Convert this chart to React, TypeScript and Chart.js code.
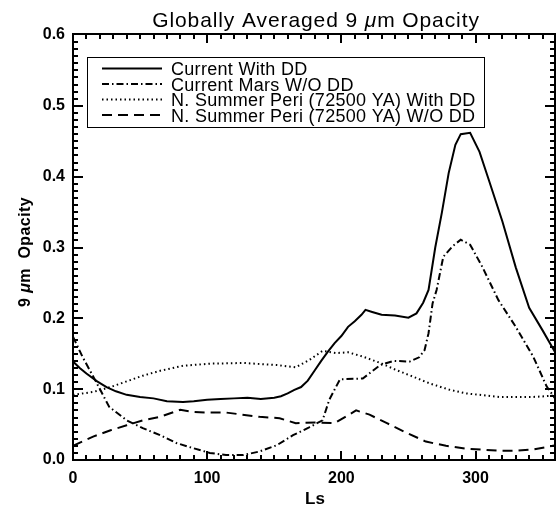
import { useEffect, useRef } from "react";
import { Chart, registerables } from "chart.js";

Chart.register(...registerables);

const FONT = '"Liberation Sans", Arial, sans-serif';

// ---- data (Ls in degrees, 9 µm opacity) ----
const seriesNames = [
  "Current With DD",
  "Current Mars W/O DD",
  "N. Summer Peri (72500 YA) With DD",
  "N. Summer Peri (72500 YA) W/O DD",
];

const lsCurrentDD = [0, 5, 10, 18, 25, 32, 40, 50, 60, 70, 82, 90, 100, 110, 120, 130, 140, 150, 155, 160, 165, 170, 175, 180, 185, 190, 195, 200, 205, 210, 215, 218, 223, 230, 240, 250, 256, 261, 265, 270, 275, 280, 285, 289, 296, 303, 310, 320, 330, 340, 350, 360];
const tauCurrentDD = [0.139, 0.13, 0.122, 0.111, 0.103, 0.097, 0.092, 0.089, 0.087, 0.083, 0.082, 0.083, 0.085, 0.086, 0.087, 0.088, 0.086, 0.088, 0.09, 0.094, 0.099, 0.103, 0.112, 0.126, 0.14, 0.153, 0.165, 0.175, 0.188, 0.196, 0.205, 0.212, 0.209, 0.205, 0.204, 0.201, 0.207, 0.222, 0.24, 0.3, 0.35, 0.405, 0.445, 0.46, 0.462, 0.435, 0.395, 0.337, 0.272, 0.215, 0.183, 0.15];

const lsCurrentNoDD = [0, 7, 17, 27, 40, 52, 65, 77, 89, 102, 114, 127, 139, 152, 164, 176, 186, 191, 199, 216, 229, 239, 251, 258, 262, 265, 268, 271, 276, 283, 289, 296, 305, 317, 330, 343, 353, 360];
const tauCurrentNoDD = [0.174, 0.146, 0.111, 0.075, 0.056, 0.045, 0.035, 0.024, 0.017, 0.01, 0.007, 0.007, 0.012, 0.021, 0.035, 0.046, 0.056, 0.085, 0.114, 0.115, 0.134, 0.14, 0.139, 0.145, 0.155, 0.179, 0.221, 0.24, 0.287, 0.302, 0.311, 0.304, 0.273, 0.226, 0.188, 0.146, 0.104, 0.085];

const lsPeriDD = [0, 15, 28, 40, 52, 65, 82, 102, 127, 152, 166, 176, 186, 196, 205, 216, 229, 241, 253, 266, 281, 293, 318, 343, 360];
const tauPeriDD = [0.092, 0.096, 0.103, 0.111, 0.119, 0.126, 0.133, 0.136, 0.137, 0.134, 0.131, 0.141, 0.154, 0.151, 0.152, 0.146, 0.137, 0.127, 0.118, 0.108, 0.099, 0.094, 0.089, 0.089, 0.091];

const lsPeriNoDD = [0, 15, 28, 40, 52, 65, 80, 89, 100, 114, 139, 154, 166, 181, 195, 203, 211, 221, 234, 249, 263, 278, 293, 318, 330, 343, 355, 360];
const tauPeriNoDD = [0.02, 0.033, 0.042, 0.049, 0.056, 0.061, 0.071, 0.068, 0.067, 0.067, 0.061, 0.059, 0.052, 0.053, 0.052, 0.061, 0.07, 0.064, 0.052, 0.038, 0.026, 0.02, 0.016, 0.013, 0.013, 0.015, 0.019, 0.021];

const xTickValues = [0, 100, 200, 300];
const yTickValues = [0, 0.1, 0.2, 0.3, 0.4, 0.5, 0.6];
const xMinorStep = 10;
const yMinorStep = 0.01;

const pts = (xs: number[], ys: number[]) => xs.map((x, i) => ({ x, y: ys[i] }));

type Run = [string, boolean];
function drawRuns(ctx: CanvasRenderingContext2D, runs: Run[], size: number, x: number, y: number, spacing: number, weight = "") {
  const fontFor = (it: boolean) => `${it ? "italic " : ""}${weight ? weight + " " : ""}${size}px ${FONT}`;
  (ctx as any).letterSpacing = `${spacing}px`;
  let total = 0;
  for (const [t, it] of runs) {
    ctx.font = fontFor(it);
    total += ctx.measureText(t).width;
  }
  let cx = x - total / 2;
  ctx.textAlign = "left";
  for (const [t, it] of runs) {
    ctx.font = fontFor(it);
    ctx.fillText(t, cx, y);
    cx += ctx.measureText(t).width;
  }
  (ctx as any).letterSpacing = "0px";
}

export default function App() {
  const ref = useRef<HTMLCanvasElement>(null);

  useEffect(() => {
    const canvas = ref.current!;

    const idlPlugin = {
      id: "idlFrame",
      afterDraw(chart: any) {
        const { ctx, chartArea: a, scales } = chart;
        const xs = scales.x;
        const ys = scales.y;
        const L = a.left;
        const R = a.right - 1;
        const T = a.top - 1;
        const B = a.bottom;
        ctx.save();
        ctx.strokeStyle = "#000";
        ctx.fillStyle = "#000";
        ctx.lineWidth = 2;
        ctx.setLineDash([]);
        ctx.beginPath();
        ctx.rect(L, T, R - L, B - T);
        ctx.stroke();

        // x ticks
        const nx = Math.round(360 / xMinorStep);
        ctx.beginPath();
        for (let i = 1; i < nx; i++) {
          const v = i * xMinorStep;
          const px = Math.round(xs.getPixelForValue(v));
          const len = xTickValues.includes(v) ? 9 : 5;
          ctx.moveTo(px, B);
          ctx.lineTo(px, B - len);
          ctx.moveTo(px, T);
          ctx.lineTo(px, T + len);
        }
        // y ticks
        const ny = Math.round(0.6 / yMinorStep);
        for (let i = 1; i < ny; i++) {
          const v = i * yMinorStep;
          const py = Math.round(ys.getPixelForValue(v));
          const len = i % 10 === 0 ? 10 : 5;
          ctx.moveTo(L, py);
          ctx.lineTo(L + len, py);
          ctx.moveTo(R, py);
          ctx.lineTo(R - len, py);
        }
        ctx.stroke();

        // title
        ctx.textBaseline = "alphabetic";
        drawRuns(ctx, [["Globally Averaged 9 ", false], ["\u03bc", true], ["m Opacity", false]], 21, 316, 27, 0.9);

        // x title
        drawRuns(ctx, [["Ls", false]], 17, 315, 504, 0, "bold");

        // y title
        ctx.save();
        ctx.translate(30, 252);
        ctx.rotate(-Math.PI / 2);
        drawRuns(ctx, [["9 ", false], ["\u03bc", true], ["m  Opacity", false]], 16, 0, 0, 0.4, "bold");
        ctx.restore();

        // legend
        const bx = 87, by = 57, bw = 397, bh = 70;
        ctx.fillStyle = "#fff";
        ctx.fillRect(bx, by, bw, bh);
        ctx.fillStyle = "#000";
        ctx.lineWidth = 1;
        ctx.strokeRect(bx + 0.5, by + 0.5, bw, bh);
        chart.data.datasets.forEach((ds: any, i: number) => {
          const ry = 68.5 + i * 15.5;
          ctx.lineWidth = 2;
          ctx.setLineDash(ds.borderDash || []);
          ctx.beginPath();
          ctx.moveTo(102, ry);
          ctx.lineTo(162, ry);
          ctx.stroke();
          ctx.setLineDash([]);
          (ctx as any).letterSpacing = "0.3px";
          ctx.font = `18px ${FONT}`;
          ctx.textAlign = "left";
          ctx.textBaseline = "alphabetic";
          ctx.fillText(ds.label, 171, ry + 6.5);
          (ctx as any).letterSpacing = "0px";
        });
        ctx.restore();
      },
    };

    const mk = (label: string, data: any[], dash: number[]) => ({
      label,
      data,
      borderColor: "#000",
      backgroundColor: "#000",
      borderWidth: 2,
      borderDash: dash,
      pointRadius: 0,
      tension: 0,
      fill: false,
    });

    const chart = new Chart(canvas, {
      type: "line",
      data: {
        datasets: [
          mk(seriesNames[0], pts(lsCurrentDD, tauCurrentDD), []),
          mk(seriesNames[1], pts(lsCurrentNoDD, tauCurrentNoDD), [7, 3, 1.5, 3]),
          mk(seriesNames[2], pts(lsPeriDD, tauPeriDD), [1.5, 3]),
          mk(seriesNames[3], pts(lsPeriNoDD, tauPeriNoDD), [10, 6]),
        ],
      },
      options: {
        animation: false,
        responsive: false,
        devicePixelRatio: 1,
        layout: { padding: { top: 35, right: 0, bottom: 0, left: 0 } },
        plugins: { legend: { display: false }, title: { display: false }, tooltip: { enabled: false } },
        scales: {
          x: {
            type: "linear",
            min: 0,
            max: 360,
            grid: { display: false, drawTicks: false },
            border: { display: false },
            afterBuildTicks: (s: any) => {
              s.ticks = xTickValues.map((v) => ({ value: v }));
            },
            afterFit: (s: any) => {
              s.height = 46;
            },
            ticks: {
              color: "#000",
              padding: 9,
              maxRotation: 0,
              font: { family: FONT, size: 16, weight: "bold" },
              callback: (v: any) => String(v),
            },
          },
          y: {
            type: "linear",
            min: 0,
            max: 0.6,
            grid: { display: false, drawTicks: false },
            border: { display: false },
            afterBuildTicks: (s: any) => {
              s.ticks = yTickValues.map((v) => ({ value: v }));
            },
            afterFit: (s: any) => {
              s.width = 73;
            },
            ticks: {
              color: "#000",
              padding: 8,
              font: { family: FONT, size: 16, weight: "bold" },
              callback: (v: any) => Number(v).toFixed(1),
            },
          },
        },
      },
      plugins: [idlPlugin],
    } as any);

    return () => chart.destroy();
  }, []);

  return (
    <div style={{ position: "fixed", left: 0, top: 0, width: 556, height: 506, background: "#fff" }}>
      <canvas ref={ref} width={556} height={506} style={{ display: "block" }} />
    </div>
  );
}
